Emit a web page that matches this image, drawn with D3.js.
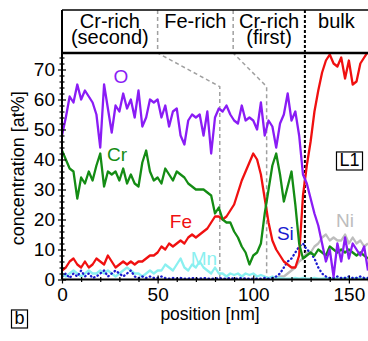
<!DOCTYPE html>
<html>
<head>
<meta charset="utf-8">
<title>Concentration profile</title>
<style>
  body { margin: 0; background: #fff; }
  svg { display: block; font-family: "Liberation Sans", Arial, sans-serif; }
  .series { fill: none; stroke-width: 2.3; stroke-linejoin: round; }
</style>
</head>
<body>
<script src="https://cdn.jsdelivr.net/npm/d3@7/dist/d3.min.js"></script>
<script>
// positions along the profile [nm], one reading every 2 nm
const positions = d3.range(0, 161, 2);

const oValues = [
  48, 54, 61, 59, 65, 60, 63, 61, 59, 55,
  44, 65, 57, 49, 58, 56, 62, 57, 60, 54,
  63, 51, 54, 60, 59, 60, 54, 58, 51, 56,
  57, 48, 45, 53, 55, 54, 55, 48, 56, 42,
  54, 57, 56, 58, 55, 53, 52, 58, 53, 54,
  53, 50, 59, 48, 53, 51, 44, 52, 55, 62,
  53, 56, 48, 35, 32, 27, 22, 18, 12, 6,
  10, 1, 12, 6, 14, 7, 12, 10, 8, 11,
  3
];
const crValues = [
  43, 40, 37, 36, 27, 34, 32, 36, 33, 38,
  42, 31, 36, 35, 36, 33, 37, 32, 35, 32,
  31, 39, 43, 36, 33, 34, 32, 37, 35, 33,
  36, 35, 34, 32, 31, 30, 30, 30, 29, 28,
  22, 24, 20, 19, 19, 16, 14, 11, 9, 5,
  8, 9, 12, 22, 30, 38, 42, 35, 26, 31,
  36, 25, 12, 7, 8, 9, 8, 10, 9, 8,
  11, 10, 9, 10, 9, 10, 9, 8, 9, 8,
  7
];
const feValues = [
  3, 4, 6, 7, 5, 4, 6, 4, 5, 7,
  6, 5, 8, 6, 4, 5, 6, 5, 6, 5,
  6, 6, 7, 8, 8, 9, 11, 10, 12, 11,
  12, 13, 12, 14, 15, 14, 15, 16, 17, 19,
  21, 21, 20, 21, 23, 25, 29, 33, 36, 39,
  42, 40, 35, 27, 19, 13, 10, 8, 6, 5,
  4, 4, 8, 28, 38, 46, 56, 63, 69, 73,
  75, 72, 71, 74, 67, 73, 65, 66, 72, 74,
  76
];
const mnValues = [
  2, 1, 2, 3, 2, 1, 2, 3, 2, 2,
  3, 2, 3, 2, 1, 2, 3, 4, 3, 2,
  2, 1, 2, 3, 2, 3, 3, 5, 4, 3,
  5, 7, 4, 3, 5, 4, 6, 4, 3, 2,
  4, 2, 2, 1, 2, 1.5, 2, 1, 2, 1.5,
  2, 1, 1.5, 1, 0.5, 1, 0.5, 0.5, 0.3, 0.3,
  0.3, 0.5, 0.3, 0.5, 0.3, 0.3, 0.5, 0.3, 0.3, 0.5,
  0.3, 0.5, 0.3, 0.3, 0.5, 0.3, 0.3, 0.5, 0.3, 0.3,
  0.3
];
const siValues = [
  1, 2, 0.5, 2, 1, 3, 1, 2, 0.5, 1,
  2, 3, 1, 2, 3, 2, 1, 2, 3, 1,
  0.5, 1, 0.5, 1, 0.5, 0.5, 1, 0.5, 0.3, 0.5,
  0.3, 0.5, 0.3, 0.3, 0.5, 0.3, 0.3, 0.5, 0.3, 0.3,
  0.3, 0.5, 0.3, 0.3, 0.5, 0.3, 0.3, 0.5, 0.3, 0.3,
  0.3, 0.3, 0.3, 0.5, 0.3, 0.5, 1, 2, 4, 6,
  7, 9, 11, 12, 10, 9, 7, 4, 2, 1,
  0.5, 0.5, 1, 0.5, 0.5, 1, 0.5, 0.5, 1, 0.5,
  0.5
];
// Ni only shows up in the bulk side
const niPositions = d3.range(112, 161, 2);
const niValues = [
  0.5, 1, 1, 2, 3, 4, 6, 7, 9, 9,
  11, 12, 14, 15, 13, 14, 13, 13, 15, 12,
  14, 12, 13, 11, 12
];

// region boundaries [nm]
const headerBounds = [50, 89.5, 127];   // where they sit in the header strip
const plotBounds = [82.5, 107, 127];    // where they come down in the plot
const regionNames = [["Cr-rich", "(second)"], ["Fe-rich"], ["Cr-rich", "(first)"], ["bulk"]];

const xMajor = [0, 50, 100, 150];
const yMajor = [0, 10, 20, 30, 40, 50, 60, 70];

const W = 368, H = 341;
const svg = d3.select("body").append("svg").attr("width", W).attr("height", H);

const x = d3.scaleLinear().domain([0, 160]).range([62, 368]);
const y = d3.scaleLinear().domain([0, 75.5]).range([279.5, 53]);
const headerTop = 10;

svg.append("clipPath").attr("id", "plotClip")
  .append("rect").attr("x", x(0)).attr("y", y(75.5))
  .attr("width", x(160) - x(0)).attr("height", y(0) - y(75.5));

// --- region dividers
const bounds = headerBounds.map((h, i) => ({ h: h, p: plotBounds[i], bulk: i === 2 }));
const divs = svg.append("g");
bounds.forEach(b => {
  const pts = [[x(b.h), headerTop], [x(b.h), y(75.5)], [x(b.p), b.bulk ? y(75.5) : y(64.3)], [x(b.p), y(0)]];
  divs.append("path")
    .attr("d", d3.line()(pts))
    .attr("fill", "none")
    .attr("stroke", b.bulk ? "#000" : "#a0a0a0")
    .attr("stroke-width", b.bulk ? 2 : 1.5)
    .attr("stroke-dasharray", b.bulk ? "3,2" : "4,3");
});

// --- series
const plot = svg.append("g").attr("clip-path", "url(#plotClip)");
const line = d3.line().x(d => x(d[0])).y(d => y(d[1]));
const zipped = vals => positions.map((p, i) => [p, vals[i]]);

plot.append("path").attr("class", "series").attr("stroke", "#bdbdbd")
  .attr("d", line(niPositions.map((p, i) => [p, niValues[i]])));
plot.append("path").attr("class", "series").attr("stroke", "#8af0f0")
  .attr("d", line(zipped(mnValues)));
plot.append("path").attr("class", "series").attr("stroke", "#1a1ad0")
  .attr("stroke-width", 2.5).attr("stroke-dasharray", "0.5,3.5").attr("stroke-linecap", "round")
  .attr("d", line(zipped(siValues)));
plot.append("path").attr("class", "series").attr("stroke", "#f01010")
  .attr("d", line(zipped(feValues)));
plot.append("path").attr("class", "series").attr("stroke", "#148c14")
  .attr("d", line(zipped(crValues)));
plot.append("path").attr("class", "series").attr("stroke", "#8a1cf5")
  .attr("d", line(zipped(oValues)));

// --- axes (ticks on both sides of the axis line)
const yMinor = d3.range(0, 76, 2).filter(v => v % 10 !== 0);
const xMinor = d3.range(0, 161, 10).filter(v => v % 50 !== 0);

const gy = svg.append("g").attr("transform", `translate(${x(0)},0)`);
gy.call(d3.axisLeft(y).tickValues(yMajor).tickSize(4).tickSizeOuter(0).tickPadding(3));
gy.append("g").call(d3.axisRight(y).tickValues(yMajor).tickSize(4).tickFormat(""));
gy.append("g").call(d3.axisLeft(y).tickValues(yMinor).tickSize(2.5).tickFormat(""));
gy.append("g").call(d3.axisRight(y).tickValues(yMinor).tickSize(2.5).tickFormat(""));

const gx = svg.append("g").attr("transform", `translate(0,${y(0)})`);
gx.call(d3.axisBottom(x).tickValues(xMajor).tickSize(4).tickSizeOuter(0).tickPadding(4));
gx.append("g").call(d3.axisTop(x).tickValues(xMajor).tickSize(4).tickFormat(""));
gx.append("g").call(d3.axisBottom(x).tickValues(xMinor).tickSize(2.5).tickFormat(""));
gx.append("g").call(d3.axisTop(x).tickValues(xMinor).tickSize(2.5).tickFormat(""));

svg.selectAll(".domain").remove();
svg.selectAll(".tick line").attr("stroke", "#000").attr("stroke-width", 1.2);
svg.selectAll(".tick text").attr("font-size", 19).attr("fill", "#000")
  .attr("font-family", "Liberation Sans, Arial, sans-serif");

// axis lines and frames
svg.append("line").attr("x1", x(0)).attr("x2", x(0)).attr("y1", headerTop).attr("y2", y(0))
  .attr("stroke", "#000").attr("stroke-width", 2);
svg.append("line").attr("x1", x(0)).attr("x2", x(160)).attr("y1", y(0)).attr("y2", y(0))
  .attr("stroke", "#000").attr("stroke-width", 2);
svg.append("line").attr("x1", x(0)).attr("x2", x(160)).attr("y1", y(75.5)).attr("y2", y(75.5))
  .attr("stroke", "#000").attr("stroke-width", 2.5);
svg.append("line").attr("x1", x(0)).attr("x2", x(160)).attr("y1", headerTop).attr("y2", headerTop)
  .attr("stroke", "#000").attr("stroke-width", 1.5);

// --- header region names
const edges = [0].concat(headerBounds, [160]);
regionNames.forEach((lines, i) => {
  const cx = x((edges[i] + edges[i + 1]) / 2);
  lines.forEach((s, j) => {
    svg.append("text").attr("x", cx).attr("y", 28 + j * 16)
      .attr("text-anchor", "middle").attr("font-size", 20).attr("fill", "#000").text(s);
  });
});

// --- series labels
const labels = [
  { t: "O", p: 30.8, v: 65.6, c: "#8a1cf5", a: "middle" },
  { t: "Cr", p: 28.8, v: 39.4, c: "#148c14", a: "middle" },
  { t: "Fe", p: 62.2, v: 17.3, c: "#f01010", a: "middle" },
  { t: "Mn", p: 67.3, v: 4.8, c: "#8af0f0", a: "start" },
  { t: "Si", p: 116.8, v: 13.3, c: "#1a1ad0", a: "middle" },
  { t: "Ni", p: 148, v: 17.6, c: "#bdbdbd", a: "middle" }
];
svg.selectAll(".lbl").data(labels).enter().append("text")
  .attr("x", d => x(d.p)).attr("y", d => y(d.v))
  .attr("text-anchor", d => d.a).attr("font-size", 19).attr("fill", d => d.c)
  .text(d => d.t);

// boxed tags
function boxTag(cx, base, txt, fs) {
  const g = svg.append("g");
  const t = g.append("text").attr("x", cx).attr("y", base).attr("text-anchor", "middle")
    .attr("font-size", fs).attr("fill", "#000").text(txt);
  const bb = t.node().getBBox();
  g.insert("rect", "text").attr("x", bb.x - 3).attr("y", base - fs * 0.78)
    .attr("width", bb.width + 6).attr("height", fs * 0.78 + 4)
    .attr("fill", "#fff").attr("stroke", "#000").attr("stroke-width", 1.2);
}
boxTag(349.5, 166, "L1", 18);
boxTag(19.5, 324, "b", 18);

// axis titles
svg.append("text").attr("x", 210).attr("y", 320).attr("text-anchor", "middle")
  .attr("font-size", 17.5).attr("fill", "#000").text("position [nm]");
svg.append("text").attr("transform", `translate(24,${(y(0) + y(75.5)) / 2 + 2}) rotate(-90)`)
  .attr("text-anchor", "middle").attr("font-size", 18).attr("fill", "#000")
  .text("concentration [at%]");
</script>
</body>
</html>
